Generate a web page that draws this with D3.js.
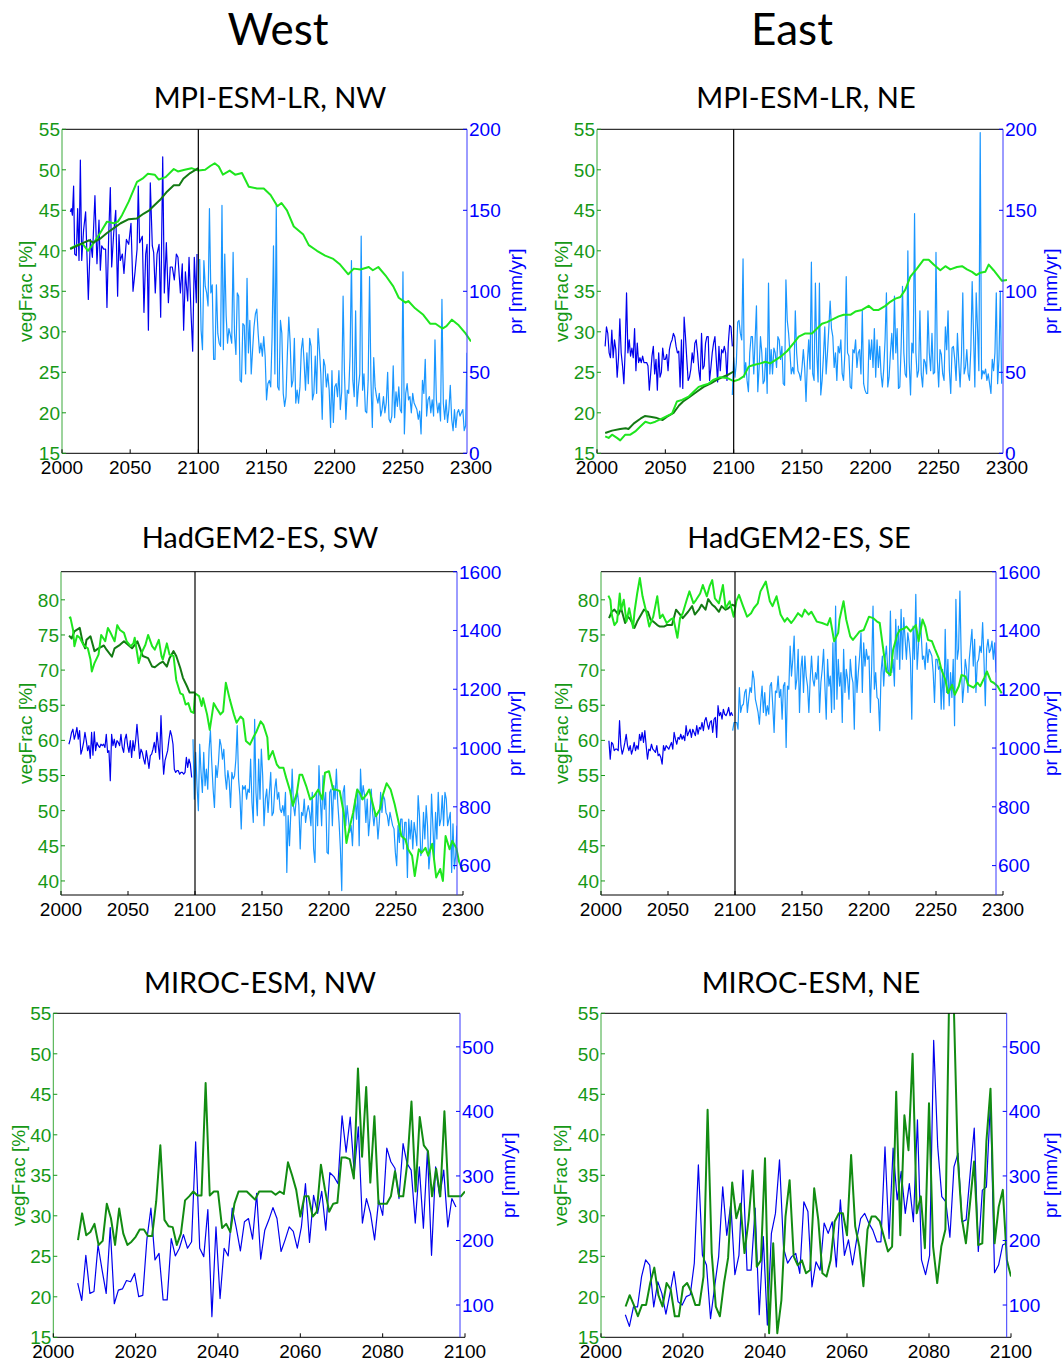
<!DOCTYPE html>
<html lang="en">
<head>
<meta charset="utf-8">
<title>vegFrac and pr, West / East</title>
<script src="https://cdn.jsdelivr.net/npm/d3@7"></script>
<style>
  body { margin: 0; background: #fff; }
  .head { font-family: "Lato", "Open Sans", sans-serif; fill: #000; text-anchor: middle; }
  .tick { font-family: "Liberation Sans", Arial, sans-serif; font-size: 19px; }
  .lab { font-family: "Liberation Sans", Arial, sans-serif; font-size: 19px; text-anchor: middle; }
</style>
</head>
<body>
<svg id="chart" width="1062" height="1361"></svg>
<script>

// ---------------------------------------------------------------
// Data. Smooth vegFrac curves as [year, value];
// yearly pr / vegFrac series as plain value lists (spread evenly
// between their first and last year).
// ---------------------------------------------------------------

// MPI-ESM-LR, NW
var mpiNW_vegExt = [[2006,40.3],[2011,40.7],[2015,40.9],[2019,40.0],[2023,40.9],[2028,42.2],[2033,43.6],[2038,43.4],[2041,43.6],[2044,44.4],[2049,46.1],[2055,48.5],[2059,48.9],[2063,49.5],[2068,49.4],[2071,48.8],[2076,49.1],[2082,50.1],[2085,49.8],[2090,50.0],[2095,50.2],[2100,49.9],[2105,50.0],[2109,50.5],[2112,50.8],[2115,50.4],[2118,49.4],[2123,49.9],[2127,49.4],[2132,49.6],[2137,47.9],[2143,47.7],[2148,47.7],[2153,46.9],[2158,45.5],[2161,45.9],[2165,45.0],[2170,43.0],[2177,42.0],[2181,40.7],[2187,40.0],[2193,39.4],[2199,39.0],[2204,38.3],[2210,37.1],[2214,37.8],[2219,37.7],[2225,38.0],[2228,37.6],[2232,38.0],[2238,36.8],[2243,35.6],[2247,34.2],[2252,33.6],[2254,33.8],[2259,32.9],[2265,32.1],[2270,31.0],[2274,31.0],[2279,30.4],[2282,30.7],[2286,31.5],[2291,30.8],[2296,29.8],[2300,28.8]];
var mpiNW_vegHist = [[2006,40.2],[2011,40.6],[2016,41.0],[2020,41.3],[2023,41.0],[2028,41.5],[2033,42.2],[2038,42.8],[2043,43.4],[2049,43.9],[2055,44.0],[2060,44.6],[2064,45.0],[2067,45.5],[2072,46.3],[2077,47.3],[2082,48.1],[2086,48.1],[2089,48.9],[2094,49.6],[2100,50.2]];
var mpiNW_prHist = [[2006.2,149],[2006.9,151],[2007.7,147],[2008.6,165],[2009.4,123],[2010.6,122],[2011.6,151],[2012.6,119],[2013.6,181],[2014.6,119],[2016.0,138],[2017.5,149],[2019.5,95],[2021.0,132],[2022.5,121],[2024.4,159],[2025.9,117],[2027.4,144],[2028.4,113],[2029.4,128],[2030.9,126],[2032.3,126],[2033.3,90],[2034.6,135],[2035.8,164],[2036.8,115],[2038.3,136],[2039.8,150],[2041.2,97],[2042.2,135],[2043.2,119],[2044.7,123],[2045.9,111],[2047.7,132],[2049.4,129],[2051.1,142],[2052.6,100],[2054.1,112],[2055.6,126],[2056.5,165],[2057.5,130],[2059.5,134],[2060.7,87],[2062.0,123],[2063.0,129],[2064.0,76],[2065.4,167],[2066.9,128],[2067.9,124],[2069.1,99],[2070.4,123],[2071.9,129],[2073.1,84],[2074.6,183],[2075.8,99],[2077.3,130],[2078.8,93],[2080.2,115],[2081.7,115],[2083.2,107],[2084.7,123],[2085.9,121],[2087.7,99],[2089.1,117],[2090.1,76],[2091.4,112],[2093.1,94],[2094.1,121],[2095.6,86],[2096.8,63],[2098.0,121],[2099.5,93],[2100,123]];
var mpiNW_prExt = [120,76,64,119,103,99,91,151,99,104,58,58,104,74,68,66,153,64,123,85,68,77,73,68,124,74,61,99,97,45,44,80,79,49,108,62,82,49,64,78,86,89,74,62,68,60,72,60,33,43,45,41,72,128,49,153,41,39,82,74,37,29,35,62,84,68,41,45,71,31,39,31,41,64,71,56,39,62,43,71,66,33,37,60,37,77,64,49,21,58,54,41,49,39,16,51,19,41,43,35,51,27,38,97,49,21,39,37,60,119,45,35,88,29,41,49,134,39,49,26,25,45,109,45,16,59,41,35,31,37,23,27,35,25,31,50,21,19,23,54,22,38,29,41,27,25,112,12,37,43,33,35,25,37,31,29,27,21,26,12,45,37,58,23,33,35,25,33,23,70,33,25,31,20,95,31,21,33,19,27,42,21,14,27,16,25,27,23,25,27,14,17,62];

// MPI-ESM-LR, NE
var mpiNE_vegExt = [[2006,17.1],[2008.5,16.9],[2011,17.3],[2014.6,16.9],[2017,16.6],[2020.7,17.3],[2024.4,17.3],[2028,17.7],[2031.7,18.3],[2035.4,18.9],[2039,18.7],[2042.7,18.9],[2046.3,19.2],[2050,19.5],[2054.9,19.9],[2058.5,21.4],[2062.2,21.6],[2067,22.0],[2070.7,22.6],[2074.4,23.2],[2078,23.4],[2081.7,23.6],[2085.4,24.1],[2090.2,24.4],[2095.1,24.3],[2100,23.9],[2103.7,24.1],[2107.3,24.5],[2111,25.7],[2114.6,25.9],[2119.5,26.1],[2123.2,26.3],[2126.8,26.1],[2130.5,26.5],[2134.1,26.9],[2139,27.6],[2143.9,28.6],[2147.6,29.4],[2152.4,29.8],[2157.3,29.8],[2161,30.4],[2164.6,31.0],[2168.3,31.2],[2172,31.5],[2176.8,31.9],[2180.5,32.1],[2185.4,32.1],[2189,32.5],[2193.9,32.7],[2198.8,33.2],[2202.4,32.7],[2206.1,32.7],[2211,33.2],[2214.6,33.7],[2218.3,34.1],[2222,34.3],[2225.6,35.2],[2229.3,36.8],[2234.1,37.8],[2239,38.9],[2242.7,38.9],[2246.3,38.3],[2251.2,37.6],[2254.9,38.1],[2258.5,37.7],[2263.4,38.0],[2267.1,38.1],[2270.7,37.7],[2274.4,37.4],[2277.6,37.0],[2280.5,37.3],[2284.1,37.4],[2286.6,38.3],[2290.2,37.6],[2293.9,36.8],[2296.3,36.3],[2300,36.4]];
var mpiNE_vegHist = [[2006,17.5],[2011,17.8],[2017,18.0],[2021,18.1],[2023,18.0],[2027,18.7],[2032,19.3],[2035,19.6],[2039,19.5],[2043,19.4],[2048,19.1],[2051,19.5],[2056,20.0],[2060,20.9],[2063,21.4],[2068,22.0],[2073,22.6],[2078,23.2],[2083,23.6],[2088,24.1],[2093,24.5],[2096,24.7],[2100,25.1]];
var mpiNE_prHist = [66,78,74,62,59,76,59,70,64,47,59,83,62,54,43,64,99,62,70,60,65,59,77,51,68,56,59,56,60,56,56,56,54,39,49,60,66,49,58,39,62,47,50,65,58,58,61,51,64,68,70,74,72,66,62,63,41,70,40,84,72,58,45,47,52,62,56,68,70,62,51,45,74,52,54,68,72,72,45,53,62,68,72,58,44,66,51,64,62,66,62,45,68,79,78,66];
var mpiNE_prExt = [36,59,47,56,81,82,74,70,120,47,56,45,38,62,72,72,49,70,91,38,53,72,62,43,45,65,37,105,49,64,49,65,62,53,72,70,58,66,43,42,107,82,74,62,49,53,49,88,62,51,49,45,53,64,53,32,56,70,52,118,49,45,105,62,44,105,36,45,60,78,49,62,77,94,77,72,53,62,45,66,62,70,49,45,62,109,62,60,41,40,64,62,70,53,62,64,49,88,43,39,37,37,70,58,70,53,77,47,70,53,66,49,41,52,70,99,41,47,62,74,58,97,62,77,40,41,66,103,62,49,47,125,56,36,68,62,148,62,47,51,88,49,41,58,56,49,88,62,51,74,49,50,124,58,41,64,61,49,45,78,64,88,51,37,65,66,58,45,74,56,41,60,99,49,53,64,49,45,64,106,74,41,99,77,51,198,46,51,49,52,45,49,43,37,58,51,62,99,43,58,100,43];

// HadGEM2-ES, SW
var hadSW_vegExt = [[2006,77.4],[2007,77.5],[2009,75.7],[2010,73.4],[2012,74.9],[2014,74.6],[2017,73.5],[2020,73.1],[2022,71.5],[2023,69.8],[2025,71.0],[2028,72.2],[2030,75.0],[2033,74.1],[2035,76.0],[2037,75.3],[2040,74.1],[2042,76.4],[2044,75.7],[2047,75.3],[2049,74.1],[2052,73.4],[2054,73.8],[2055,74.6],[2058,71.0],[2060,72.4],[2063,73.6],[2065,75.0],[2068,73.4],[2070,72.9],[2073,74.3],[2075,72.0],[2076,71.5],[2079,73.8],[2081,72.2],[2084,72.0],[2086,68.6],[2089,66.7],[2091,66.5],[2093,65.1],[2095,65.3],[2097,64.1],[2099,63.9],[2100,66.7],[2103,66.3],[2105,64.9],[2106,66.0],[2109,63.7],[2111,61.5],[2114,65.3],[2116,64.6],[2119,63.7],[2121,64.1],[2123,68.2],[2126,65.8],[2129,63.7],[2131,62.5],[2134,63.4],[2136,63.0],[2138,59.9],[2141,59.4],[2144,60.6],[2146,61.3],[2149,62.7],[2151,62.2],[2154,60.4],[2155,57.3],[2158,58.5],[2161,56.6],[2163,56.1],[2166,56.1],[2168,54.7],[2171,52.8],[2173,50.7],[2176,52.5],[2178,55.1],[2180,55.1],[2183,53.5],[2186,51.6],[2189,52.1],[2192,53.0],[2195,51.6],[2197,55.4],[2200,55.6],[2203,53.0],[2205,53.0],[2208,52.8],[2211,49.7],[2213,45.4],[2215,47.3],[2218,49.7],[2221,53.0],[2223,52.5],[2225,51.6],[2228,52.3],[2230,53.0],[2233,50.7],[2235,49.2],[2238,50.2],[2240,52.1],[2243,53.9],[2246,53.0],[2249,50.9],[2252,48.3],[2254,46.4],[2257,45.9],[2259,44.5],[2262,43.6],[2264,40.7],[2267,44.5],[2269,44.0],[2272,44.7],[2274,43.6],[2277,45.3],[2280,40.5],[2283,41.7],[2285,40.0],[2287,46.4],[2290,44.5],[2292,45.7],[2295,44.7],[2297,42.8],[2300,41.4]];
var hadSW_vegHist = [[2006,74.9],[2008,74.5],[2010,75.5],[2014,76.0],[2016,74.1],[2018,73.1],[2019,74.3],[2022,74.8],[2025,72.7],[2028,73.1],[2032,73.5],[2034,72.9],[2038,71.9],[2040,73.1],[2044,73.6],[2047,74.1],[2050,73.6],[2053,73.1],[2057,74.1],[2059,73.1],[2061,72.0],[2065,71.7],[2068,70.5],[2070,70.4],[2074,71.0],[2076,71.2],[2079,70.5],[2081,71.7],[2084,72.7],[2086,72.0],[2089,70.3],[2091,68.9],[2094,67.7],[2096,66.8],[2100,66.8]];
var hadSW_prHist = [1013,1030,1053,1064,1030,1047,1070,1030,1059,979,996,1019,1053,1025,991,1008,965,1053,976,1055,991,1019,1008,1002,1013,1008,1013,1002,1047,985,991,889,1047,1008,1030,1002,1025,1019,1008,1047,1002,985,1030,1047,1008,985,1025,968,1025,991,1025,1081,1025,965,996,985,962,945,991,962,931,974,979,996,1019,985,1053,1008,962,1110,991,911,957,974,991,1030,1059,1042,1013,928,917,923,923,911,917,917,911,917,968,934,962,945,900];
var hadSW_prExt = [1030,826,985,872,787,1013,917,849,985,872,928,860,996,1059,951,860,798,940,900,951,1030,1008,962,996,906,860,923,889,798,917,895,906,962,1076,895,838,725,872,860,872,826,860,849,962,815,747,1098,849,770,962,826,996,906,736,826,860,781,849,917,770,781,860,895,826,849,792,781,804,770,849,577,770,668,781,928,804,770,826,849,804,657,781,770,826,747,781,804,781,736,849,657,611,849,736,940,826,736,906,792,849,645,640,849,860,736,872,826,928,815,747,657,515,849,872,736,804,758,713,736,668,781,826,758,860,668,928,826,872,838,747,826,702,758,860,781,736,781,770,691,747,849,781,838,826,781,770,736,781,758,736,725,645,600,736,679,758,758,657,747,747,560,758,691,753,657,747,713,668,838,770,634,657,781,691,804,736,589,645,843,736,623,781,691,849,736,758,838,736,849,826,736,758,781,577,742,589,634,736];

// HadGEM2-ES, SE
var hadSE_vegExt = [[2005.5,80.6],[2007,80.0],[2008,77.9],[2010,76.4],[2012,76.9],[2014,80.9],[2015,78.6],[2017,80.0],[2019,76.9],[2021,78.8],[2024,76.0],[2025,78.3],[2027,80.9],[2029,83.1],[2031,80.5],[2034,78.1],[2036,76.2],[2039,77.6],[2042,80.5],[2044,77.4],[2046,77.9],[2049,76.7],[2052,77.2],[2054,77.4],[2057,74.6],[2059,77.4],[2061,78.1],[2064,80.0],[2066,81.2],[2069,79.5],[2071,80.0],[2074,80.9],[2076,82.1],[2079,80.5],[2081,81.9],[2083,82.8],[2085,80.2],[2088,79.5],[2091,82.1],[2093,78.8],[2096,79.8],[2099,77.6],[2101,79.8],[2103,80.7],[2106,79.1],[2109,77.6],[2112,78.1],[2114,78.8],[2117,79.5],[2119,81.2],[2123,82.6],[2126,79.8],[2128,79.1],[2131,80.5],[2134,77.9],[2137,76.9],[2139,77.4],[2142,76.7],[2144,77.2],[2147,78.1],[2150,77.6],[2152,78.6],[2155,77.9],[2157,78.3],[2161,76.9],[2165,76.7],[2169,76.4],[2171,77.4],[2174,74.1],[2177,75.3],[2178,77.2],[2181,79.8],[2183,77.2],[2186,74.8],[2188,74.3],[2191,75.0],[2193,75.5],[2196,75.7],[2200,77.6],[2203,77.4],[2206,76.9],[2208,76.7],[2211,72.4],[2213,69.8],[2216,69.3],[2218,72.9],[2221,75.0],[2223,75.7],[2226,75.9],[2228,76.2],[2231,75.5],[2235,76.4],[2237,74.1],[2240,77.2],[2242,76.2],[2244,74.3],[2247,74.1],[2249,73.1],[2252,71.7],[2254,70.1],[2257,68.6],[2259,66.7],[2262,67.9],[2264,66.5],[2267,67.7],[2269,69.3],[2272,69.1],[2274,67.9],[2278,67.5],[2281,68.2],[2283,67.7],[2286,68.9],[2288,69.8],[2291,68.4],[2293,68.2],[2296,67.7],[2299,66.7]];
var hadSE_vegHist = [[2006,77.4],[2008,78.3],[2010,78.6],[2013,77.9],[2015,78.8],[2018,76.7],[2020,77.6],[2022,77.2],[2025,76.0],[2027,76.9],[2030,77.9],[2032,78.6],[2035,78.3],[2037,77.2],[2039,76.9],[2042,76.4],[2044,76.2],[2047,76.2],[2049,76.4],[2053,76.4],[2056,78.6],[2059,77.9],[2061,77.4],[2065,78.3],[2068,79.1],[2070,77.9],[2073,78.6],[2075,79.3],[2078,78.6],[2080,80.1],[2083,79.3],[2085,79.0],[2088,78.3],[2090,79.1],[2093,78.6],[2095,78.8],[2098,79.3],[2100,79.1]];
var hadSE_prHist = [1025,962,1019,1013,991,996,996,991,1093,1008,979,996,1019,1047,1008,991,1008,979,996,1019,991,1008,996,1047,1025,1053,1019,1059,1008,962,996,991,1013,996,991,985,1008,974,979,968,945,1008,991,1008,1002,996,1008,1019,996,1053,1030,1013,1036,1030,1047,1030,1042,1025,1076,1042,1053,1064,1036,1064,1053,1042,1076,1047,1070,1064,1087,1059,1093,1104,1081,1064,1087,1093,1053,1098,1104,1036,1144,1110,1121,1098,1132,1115,1110,1121,1138,1110,1121,1110];
var hadSE_prExt = [1059,1087,1087,1087,1064,1206,1121,1144,1149,1189,1200,1121,1166,1206,1189,1262,1234,1166,1144,1121,1081,1155,1211,1121,1189,1110,1144,1115,1211,1223,1144,1053,1194,1189,1245,1172,1200,1098,1211,1223,1002,1211,1200,1347,1245,1302,1381,1200,1234,1336,1121,1268,1313,1189,1313,1245,1211,1121,1234,1313,1234,1211,1257,1234,1313,1121,1223,1268,1336,1211,1098,1302,1211,1245,1121,1358,1132,1483,1166,1302,1211,1257,1087,1336,1189,1268,1234,1166,1302,1245,1223,1064,1313,1189,1257,1313,1392,1189,1358,1279,1336,1302,1313,1121,1279,1483,1200,1257,1172,1166,1059,1257,1313,1211,1302,1347,1268,1245,1466,1257,1302,1211,1438,1302,1415,1268,1472,1302,1444,1370,1302,1392,1358,1302,1098,1415,1302,1523,1268,1347,1444,1392,1302,1313,1268,1358,1291,1336,1325,1313,1257,1155,1302,1302,1268,1279,1132,1268,1132,1404,1189,1302,1144,1257,1172,1302,1076,1506,1302,1336,1534,1302,1155,1211,1302,1268,1189,1302,1353,1404,1279,1370,1189,1291,1302,1347,1325,1427,1302,1144,1336,1370,1325,1336,1364,1302,1358,1257];

// MIROC-ESM, NW (2006-2100, yearly)
var mirocNW_veg = [27.0,30.3,27.6,28.0,29.0,26.4,26.9,31.5,29.7,26.4,30.9,27.8,26.4,26.8,27.4,28.3,28.3,27.5,27.5,31.8,38.7,29.5,28.7,28.6,26.4,27.8,31.9,32.4,33.0,32.5,32.5,46.4,32.5,33.0,33.0,28.5,29.0,28.0,31.5,33.0,33.0,33.0,32.5,32.0,33.0,33.0,33.0,33.0,32.6,33.0,32.7,36.6,35.0,33.2,29.9,32.4,32.4,29.9,30.5,36.3,33.2,30.5,31.5,31.6,37.2,37.2,37.0,34.6,48.2,37.3,45.9,34.1,42.3,31.5,31.5,31.5,32.4,35.5,32.4,32.4,36.6,44.1,33.0,42.2,38.7,38.0,32.4,35.8,32.4,42.9,32.4,32.4,32.4,32.4,33.0];
var mirocNW_pr = [134,107,177,118,121,193,154,118,220,102,123,125,138,136,149,113,115,201,250,170,180,108,108,203,176,188,209,188,198,353,188,175,248,82,221,110,188,176,250,219,184,229,234,202,273,171,216,232,251,234,183,201,221,214,188,221,288,197,270,242,276,216,305,299,288,393,337,391,304,376,227,265,242,201,263,239,343,322,312,265,350,319,309,227,314,219,340,177,314,268,309,221,265,252];

// MIROC-ESM, NE (2006-2100, yearly)
var mirocNE_veg = [18.8,20.2,19.0,17.6,19.0,19.0,21.7,23.6,20.2,18.8,21.7,20.9,17.6,17.6,21.2,21.7,20.6,19.0,19.0,22.5,43.1,25.4,18.8,17.6,21.7,24.8,34.1,29.7,31.5,25.4,29.5,35.6,23.7,24.5,37.1,15.5,26.6,15.5,19.6,29.9,34.4,25.0,23.9,24.5,22.9,23.3,33.4,29.5,22.9,22.5,24.5,29.3,30.3,30.3,27.6,37.5,28.7,26.2,21.3,28.3,29.9,29.9,29.3,27.4,25.6,26.2,45.3,27.6,42.4,38.1,50.0,30.3,32.4,26.0,43.9,26.2,21.7,26.2,28.3,60.0,57.0,37.3,29.7,26.6,31.5,36.7,26.4,26.6,39.2,45.7,26.6,31.1,33.2,24.5,22.5];
var mirocNE_pr = [85,67,97,97,144,170,162,97,136,118,86,118,152,105,100,113,116,165,317,177,162,79,128,175,283,208,257,147,177,309,154,154,250,85,206,69,211,242,325,188,165,175,180,149,260,245,128,167,154,227,211,229,159,263,177,201,162,201,234,242,227,216,198,198,345,203,343,263,307,242,288,229,387,170,147,177,510,345,268,260,205,314,335,229,232,304,374,183,278,283,415,150,162,193,196];

// axis ticks
var ticksYear300 = [2000, 2050, 2100, 2150, 2200, 2250, 2300];
var ticksYear100 = [2000, 2020, 2040, 2060, 2080, 2100];
var ticksVeg15 = [15, 20, 25, 30, 35, 40, 45, 50, 55];
var ticksVeg40 = [40, 45, 50, 55, 60, 65, 70, 75, 80];
var ticksPrMPI = [0, 50, 100, 150, 200];
var ticksPrHad = [600, 800, 1000, 1200, 1400, 1600];
var ticksPrMIROC = [100, 200, 300, 400, 500];

// spread a yearly list evenly from y0 to y1
function spread(vals, y0, y1) {
  return vals.map(function(v, i) { return [y0 + (y1 - y0) * i / (vals.length - 1), v]; });
}

var cVegExt = "#1ee61e", cVegHist = "#137a13", cVegMiroc = "#128c12";
var cPrHist = "#0000ee", cPrExt = "#1996ff";
var cLeft = "#169816", cRight = "#0000ff";

var panels = [
  { title: "MPI-ESM-LR, NW", tx: 270, ty: 108,
    x0: 62, x1: 471, x1r: 467, y0: 129.3, y1: 453.3, bottomEnd: 467, labL: 25, labR: 515,
    xDom: [2000, 2300], xTicks: ticksYear300, yL: [15, 55], yLT: ticksVeg15, yR: [0, 200], yRT: ticksPrMPI, split: 2100,
    series: [
      { d: mpiNW_prHist, ax: "R", c: cPrHist, w: 1.2 },
      { d: spread(mpiNW_prExt, 2102, 2300), ax: "R", c: cPrExt, w: 1.2 },
      { d: mpiNW_vegExt, ax: "L", c: cVegExt, w: 2 },
      { d: mpiNW_vegHist, ax: "L", c: cVegHist, w: 2 } ] },
  { title: "MPI-ESM-LR, NE", tx: 806, ty: 108,
    x0: 597, x1: 1007, x1r: 1003, y0: 129.3, y1: 453.3, bottomEnd: 1003, labL: 561, labR: 1050,
    xDom: [2000, 2300], xTicks: ticksYear300, yL: [15, 55], yLT: ticksVeg15, yR: [0, 200], yRT: ticksPrMPI, split: 2100,
    series: [
      { d: spread(mpiNE_prHist, 2006, 2100), ax: "R", c: cPrHist, w: 1.2 },
      { d: spread(mpiNE_prExt, 2100, 2299), ax: "R", c: cPrExt, w: 1.2 },
      { d: mpiNE_vegHist, ax: "L", c: cVegHist, w: 2 },
      { d: mpiNE_vegExt, ax: "L", c: cVegExt, w: 2 } ] },
  { title: "HadGEM2-ES, SW", tx: 260, ty: 548,
    x0: 61, x1: 463, x1r: 457, y0: 571.7, y1: 895, bottomEnd: 463, labL: 25, labR: 514,
    xDom: [2000, 2300], xTicks: ticksYear300, yL: [38, 84], yLT: ticksVeg40, yR: [500, 1600], yRT: ticksPrHad, split: 2100,
    series: [
      { d: spread(hadSW_prHist, 2006, 2099), ax: "R", c: cPrHist, w: 1.2 },
      { d: spread(hadSW_prExt, 2100, 2300), ax: "R", c: cPrExt, w: 1.2 },
      { d: hadSW_vegHist, ax: "L", c: cVegHist, w: 2 },
      { d: hadSW_vegExt, ax: "L", c: cVegExt, w: 2 } ] },
  { title: "HadGEM2-ES, SE", tx: 799, ty: 548,
    x0: 601, x1: 1003, x1r: 996, y0: 571.7, y1: 895, bottomEnd: 1003, labL: 561, labR: 1050,
    xDom: [2000, 2300], xTicks: ticksYear300, yL: [38, 84], yLT: ticksVeg40, yR: [500, 1600], yRT: ticksPrHad, split: 2100,
    series: [
      { d: spread(hadSE_prHist, 2006, 2100), ax: "R", c: cPrHist, w: 1.2 },
      { d: spread(hadSE_prExt, 2100, 2300), ax: "R", c: cPrExt, w: 1.2 },
      { d: hadSE_vegHist, ax: "L", c: cVegHist, w: 2 },
      { d: hadSE_vegExt, ax: "L", c: cVegExt, w: 2 } ] },
  { title: "MIROC-ESM, NW", tx: 260, ty: 993,
    x0: 53.3, x1: 465, x1r: 460, y0: 1013.3, y1: 1337.3, bottomEnd: 465, labL: 18, labR: 508,
    xDom: [2000, 2100], xTicks: ticksYear100, yL: [15, 55], yLT: ticksVeg15, yR: [50, 552], yRT: ticksPrMIROC, split: null,
    series: [
      { d: spread(mirocNW_pr, 2006, 2099), ax: "R", c: cPrHist, w: 1.2 },
      { d: spread(mirocNW_veg, 2006, 2100), ax: "L", c: cVegMiroc, w: 2 } ] },
  { title: "MIROC-ESM, NE", tx: 811, ty: 993,
    x0: 601, x1: 1011, x1r: 1006.7, y0: 1013.3, y1: 1337.3, bottomEnd: 1011, labL: 560, labR: 1050,
    xDom: [2000, 2100], xTicks: ticksYear100, yL: [15, 55], yLT: ticksVeg15, yR: [50, 552], yRT: ticksPrMIROC, split: null,
    series: [
      { d: spread(mirocNE_pr, 2006, 2100), ax: "R", c: cPrHist, w: 1.2 },
      { d: spread(mirocNE_veg, 2006, 2100), ax: "L", c: cVegMiroc, w: 2 } ] }
];

var svg = d3.select("#chart");
svg.append("rect").attr("width", 1062).attr("height", 1361).attr("fill", "#fff");

svg.append("text").attr("class", "head").attr("x", 278).attr("y", 45).style("font-size", "44px").text("West");
svg.append("text").attr("class", "head").attr("x", 792).attr("y", 45).style("font-size", "44px").text("East");

var defs = svg.append("defs");

panels.forEach(function(p, k) {
  var g = svg.append("g");
  var xL = d3.scaleLinear().domain(p.xDom).range([p.x0, p.x1]);
  var xR = d3.scaleLinear().domain(p.xDom).range([p.x0, p.x1r]);
  var yL = d3.scaleLinear().domain(p.yL).range([p.y1, p.y0]);
  var yR = d3.scaleLinear().domain(p.yR).range([p.y1, p.y0]);

  defs.append("clipPath").attr("id", "cl" + k).append("rect")
    .attr("x", p.x0).attr("y", p.y0).attr("width", p.x1 - p.x0).attr("height", p.y1 - p.y0);
  defs.append("clipPath").attr("id", "cr" + k).append("rect")
    .attr("x", p.x0).attr("y", p.y0).attr("width", p.x1r - p.x0).attr("height", p.y1 - p.y0);

  g.append("text").attr("class", "head").attr("x", p.tx).attr("y", p.ty).style("font-size", "29px").text(p.title);

  // series
  p.series.forEach(function(s) {
    var isL = s.ax === "L";
    var line = d3.line()
      .x(function(d) { return (isL ? xL : xR)(d[0]); })
      .y(function(d) { return (isL ? yL : yR)(d[1]); });
    g.append("path").datum(s.d)
      .attr("clip-path", "url(#" + (isL ? "cl" : "cr") + k + ")")
      .attr("fill", "none").attr("stroke", s.c).attr("stroke-width", s.w)
      .attr("stroke-linejoin", "round").attr("d", line);
  });

  // 2100 marker
  if (p.split) {
    g.append("line").attr("x1", xL(p.split)).attr("x2", xL(p.split))
      .attr("y1", p.y0).attr("y2", p.y1).attr("stroke", "#000").attr("stroke-width", 1.2);
  }

  // frame
  g.append("line").attr("x1", p.x0).attr("x2", p.x1r).attr("y1", p.y0).attr("y2", p.y0).attr("stroke", "#000");
  g.append("line").attr("x1", p.x0).attr("x2", p.bottomEnd).attr("y1", p.y1).attr("y2", p.y1).attr("stroke", "#000");
  g.append("line").attr("x1", p.x0).attr("x2", p.x0).attr("y1", p.y0).attr("y2", p.y1).attr("stroke", "#3aa83a");
  g.append("line").attr("x1", p.x1r).attr("x2", p.x1r).attr("y1", p.y0).attr("y2", p.y1).attr("stroke", "#3838ff");

  // x ticks
  p.xTicks.forEach(function(t) {
    g.append("line").attr("x1", xL(t)).attr("x2", xL(t)).attr("y1", p.y1).attr("y2", p.y1 - 4).attr("stroke", "#000");
    g.append("text").attr("class", "tick").attr("x", xL(t)).attr("y", p.y1 + 21)
      .attr("text-anchor", "middle").attr("fill", "#000").text(t);
  });
  // left ticks
  p.yLT.forEach(function(t) {
    g.append("line").attr("x1", p.x0).attr("x2", p.x0 + 4).attr("y1", yL(t)).attr("y2", yL(t)).attr("stroke", cLeft);
    g.append("text").attr("class", "tick").attr("x", p.x0 - 2).attr("y", yL(t)).attr("dy", "0.36em")
      .attr("text-anchor", "end").attr("fill", cLeft).text(t);
  });
  // right ticks
  p.yRT.forEach(function(t) {
    g.append("line").attr("x1", p.x1r).attr("x2", p.x1r - 4).attr("y1", yR(t)).attr("y2", yR(t)).attr("stroke", cRight);
    g.append("text").attr("class", "tick").attr("x", p.x1r + 2).attr("y", yR(t)).attr("dy", "0.36em")
      .attr("text-anchor", "start").attr("fill", cRight).text(t);
  });

  var yc = (p.y0 + p.y1) / 2;
  g.append("text").attr("class", "lab").attr("fill", cLeft)
    .attr("transform", "translate(" + p.labL + "," + yc + ") rotate(-90)").attr("dy", "0.35em").text("vegFrac [%]");
  g.append("text").attr("class", "lab").attr("fill", cRight)
    .attr("transform", "translate(" + p.labR + "," + yc + ") rotate(-90)").attr("dy", "0.35em").text("pr [mm/yr]");
});

</script>
</body>
</html>
